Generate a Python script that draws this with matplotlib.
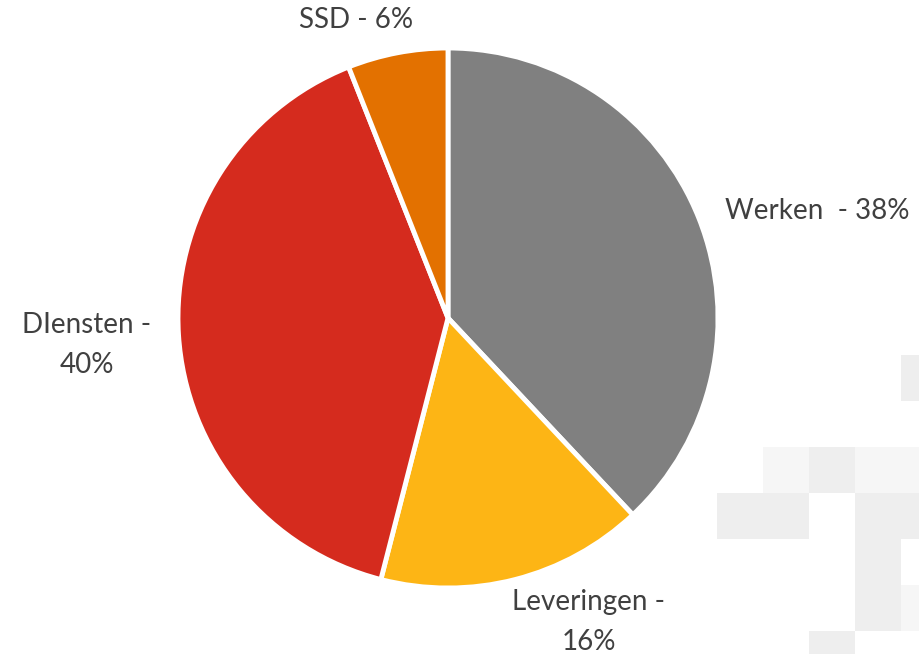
import matplotlib.pyplot as plt
from matplotlib.patches import Rectangle

# Share of contract type
categories = ["Werken", "Leveringen", "DIensten", "SSD"]
shares = [38, 16, 40, 6]
labels = ["Werken  - 38%", "Leveringen -\n16%", "DIensten -\n40%", "SSD - 6%"]
colors = ["#808080", "#FDB515", "#D52B1E", "#E37100"]

# label anchor points (pixels from top-left)
label_xy = [(817, 211), (589, 622), (87, 345), (356, 20)]

# decorative background tiles: (col, row, shade)
tiles = [
    (4, -2, "#eeeeee"),
    (1, 0, "#f6f6f6"), (2, 0, "#eeeeee"), (3, 0, "#f6f6f6"), (4, 0, "#f6f6f6"),
    (0, 1, "#eeeeee"), (1, 1, "#eeeeee"), (3, 1, "#eeeeee"), (4, 1, "#eeeeee"),
    (3, 2, "#eeeeee"),
    (3, 3, "#eeeeee"), (4, 3, "#f6f6f6"),
    (2, 4, "#eeeeee"),
]

W, H = 920, 654
fig = plt.figure(figsize=(W / 100, H / 100), dpi=100)
ax = fig.add_axes([0, 0, 1, 1])

tile = 46
for col, row, shade in tiles:
    x0 = 717 + col * tile
    y_top = 447 + row * tile
    ax.add_patch(Rectangle((x0, H - y_top - tile), tile, tile,
                           facecolor=shade, edgecolor="none", zorder=0))

ax.pie(
    shares,
    colors=colors,
    startangle=90,
    counterclock=False,
    center=(448, H - 318),
    radius=270,
    frame=True,
    wedgeprops={"edgecolor": "white", "linewidth": 3.5, "zorder": 2},
)
ax.set_xlim(0, W)
ax.set_ylim(0, H)
ax.set_aspect("equal")
ax.axis("off")

for text, (x, y) in zip(labels, label_xy):
    ax.text(x, H - y, text, ha="center", va="center", fontsize=20,
            family="Lato", color="#404040", linespacing=1.62, zorder=3)

fig.savefig("out.png", dpi=100)
